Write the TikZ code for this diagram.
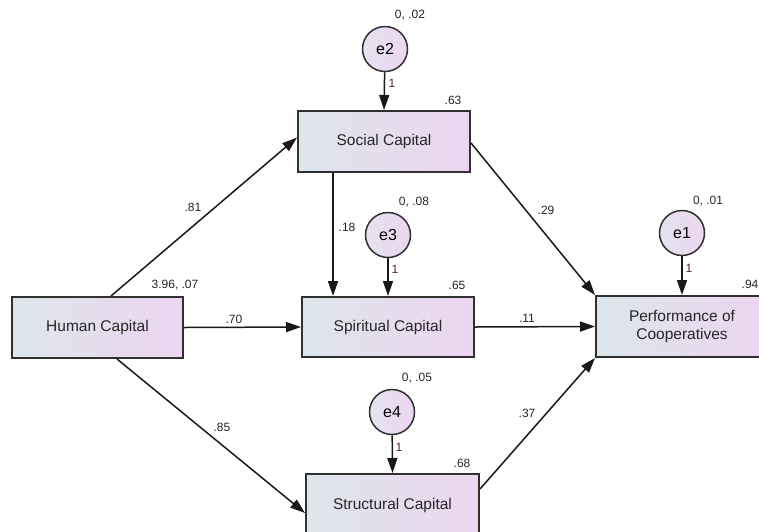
\documentclass[tikz,border=0pt]{standalone}
\usepackage{fontspec}
\setmainfont{Liberation Sans}
\usetikzlibrary{arrows.meta}
\definecolor{gl}{HTML}{DDE6EA}
\definecolor{gr}{HTML}{EDD5F1}
\definecolor{cl}{HTML}{E4E2EE}
\definecolor{cr}{HTML}{EDD6F1}
\definecolor{bd}{HTML}{303030}
\definecolor{onec}{HTML}{5A2020}
\tikzset{
  var/.style={draw=bd, line width=2pt, left color=gl, right color=gr, inner sep=0pt,
    minimum width=172pt, minimum height=61pt, font=\fontsize{15.5}{18}\selectfont, text=black!85, align=center},
  err/.style={circle, draw=bd, line width=1.5pt, left color=cl, right color=cr, inner sep=0pt,
    minimum size=45pt, font=\fontsize{16}{18}\selectfont},
  arr/.style={line width=1.5pt, black!90, -{Triangle[length=15pt,width=10pt]}},
  lab/.style={font=\fontsize{12}{14}\selectfont, inner sep=0pt, text=black!85},
  one/.style={font=\fontsize{12}{14}\selectfont, inner sep=0pt, text=onec}
}
\begin{document}
\begin{tikzpicture}[x=1pt,y=-1pt]
\useasboundingbox (0,0) rectangle (759,531);
\clip (0,0) rectangle (759,531);
\fill[white] (0,0) rectangle (759,531);
% variables
\node[var, minimum width=171pt] (H) at (97.5,327.5) {Human Capital};
\node[var] (S) at (384,141.5) {Social Capital};
\node[var, minimum height=60pt] (Sp) at (388,327) {Spiritual Capital};
\node[var, minimum width=173pt, minimum height=62pt] (T) at (392.5,505) {Structural Capital};
\node[var] (P) at (682,326.5) {Performance of\\Cooperatives};
% errors
\node[err] (e2) at (385,49) {e2};
\node[err] (e3) at (388,235) {e3};
\node[err] (e4) at (392,412) {e4};
\node[err] (e1) at (682,233) {e1};
% error arrows
\draw[arr] (e2) -- (S.north);
\draw[arr] (e3) -- (Sp.north);
\draw[arr] (e4) -- (T.north);
\draw[arr] (e1) -- (P.north);
% paths
\draw[arr] ([xshift=13.5pt]H.north) -- ([yshift=4pt]S.west);
\draw[arr] (H.east) -- (Sp.west);
\draw[arr] ([xshift=19.5pt]H.south) -- ([yshift=-8pt]T.west);
\draw[arr] ([xshift=-51pt]S.south) -- ([xshift=-55pt]Sp.north);
\draw[arr] ([yshift=-1.5pt]S.east) -- (P.north west);
\draw[arr] (Sp.east) -- (P.west);
\draw[arr] ([yshift=-16pt]T.north east) -- (P.south west);
% labels
\node[lab] (l1) at (410,15) {0, .02};
\node[lab] (l2) at (453,100) {.63};
\node[one] (o2) at (392,83) {1};
\node[lab] (l3) at (175,285) {3.96, .07};
\node[lab] (l4) at (708,201) {0, .01};
\node[lab] (l5) at (750,284) {.94};
\node[one] (o1) at (689,268) {1};
\node[lab] (l6) at (417,378) {0, .05};
\node[lab] (l7) at (462,463) {.68};
\node[one] (o4) at (399,447) {1};
\node[lab] (l8) at (414,202) {0, .08};
\node[lab] (l9) at (457,285) {.65};
\node[one] (o3) at (395,269) {1};
\node[lab] (p1) at (347,227) {.18};
\node[lab] (p2) at (193,207) {.81};
\node[lab] (p3) at (234,319) {.70};
\node[lab] (p4) at (222,427) {.85};
\node[lab] (p5) at (546,210) {.29};
\node[lab] (p6) at (527,318) {.11};
\node[lab] (p7) at (527,413) {.37};
\end{tikzpicture}
\end{document}
